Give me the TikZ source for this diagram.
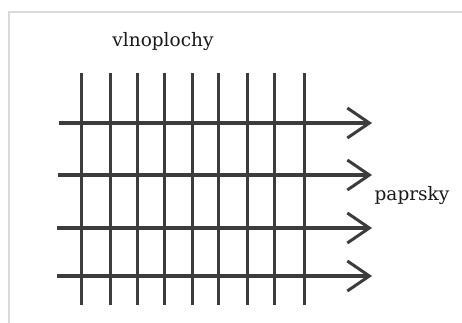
\documentclass[tikz,border=0pt]{standalone}
\usepackage{fontspec}
\setmainfont{DejaVu Serif}
\usetikzlibrary{arrows.meta}
\definecolor{ink}{HTML}{3C3C3C}
\definecolor{frame}{HTML}{DADADA}
\begin{document}
\begin{tikzpicture}[x=1pt,y=-1pt,
  wave/.style={draw=ink,line width=3pt},
  ray/.style={draw=ink,line width=3.6pt,-{Straight Barb[length=22pt,width=30pt,line width=3pt]}},
  lbl/.style={font=\fontsize{18.5}{20}\selectfont,text=black!90,inner sep=0pt,anchor=base}]
\useasboundingbox (0,0) rectangle (462,323);
\fill[white] (0,0) rectangle (462,323);
\draw[frame,line width=2pt] (9,323) -- (9,12) -- (462,12);
% wavefronts
\foreach \x [count=\i] in {81,110,137,164,192,218,247,274,304}{
  \coordinate (wt\i) at (\x,73);
  \coordinate (wb\i) at (\x,305);
  \draw[wave] (wt\i) -- (wb\i);
}
% rays
\foreach \y/\xs [count=\i] in {123/59,175/58,228/57,276/57}{
  \coordinate (rs\i) at (\xs,\y);
  \coordinate (re\i) at (372,\y);
  \draw[ray] (rs\i) -- (re\i);
}
\node[lbl] (vln) at (163,47) {vlnoplochy};
\node[lbl] (pap) at (412,200) {paprsky};
\end{tikzpicture}
\end{document}
